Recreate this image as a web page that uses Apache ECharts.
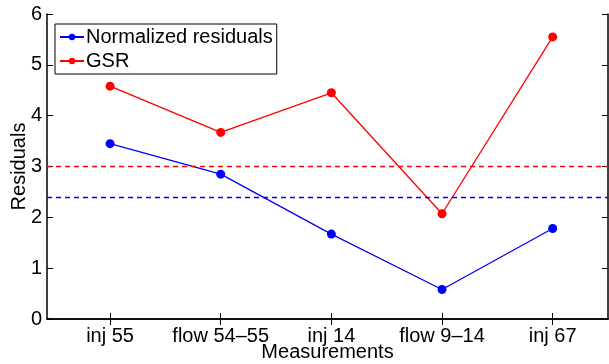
<!DOCTYPE html>
<html>
<head>
<meta charset="utf-8">
<script src="https://cdn.jsdelivr.net/npm/echarts@6/dist/echarts.min.js"></script>
<style>
  html, body { margin: 0; padding: 0; background: #fff; }
  #myChart { width: 609px; height: 364px; }
</style>
</head>
<body>
<div id="myChart"></div>
<script>
  // measurements along the x axis
  var categories = ['inj 55', 'flow 54\u201355', 'inj 14', 'flow 9\u201314', 'inj 67'];
  // residual values
  var normalized = [3.45, 2.85, 1.67, 0.58, 1.78];
  var gsr = [4.58, 3.67, 4.45, 2.07, 5.55];
  // dashed threshold lines
  var normThreshold = 2.4;
  var gsrThreshold = 3.0;
  var yTicks = [0, 1, 2, 3, 4, 5, 6];

  var positions = categories.map(function (c, i) { return i + 1; });
  function pairs(arr) {
    return arr.map(function (v, i) { return [positions[i], v]; });
  }

  var font = 'Liberation Sans, Arial, Helvetica, sans-serif';
  var fs = 20;
  var myChart = echarts.init(document.getElementById('myChart'));
  myChart.setOption({
    animation: false,
    textStyle: { fontFamily: font },
    grid: { left: 47, right: 1, top: 14, bottom: 45, outerBoundsMode: 'none', containLabel: false },
    legend: {
      left: 55,
      top: 24,
      orient: 'vertical',
      backgroundColor: '#fff',
      borderColor: '#000',
      borderWidth: 1,
      borderRadius: 0,
      padding: [3, 4, 3, 4],
      itemGap: 4,
      itemWidth: 24,
      itemHeight: 8,
      textStyle: { fontSize: fs, color: '#000', fontFamily: font, padding: [0, 0, 0, -3] },
      data: ['Normalized residuals', 'GSR']
    },
    xAxis: [{
      type: 'value',
      min: 0.43,
      max: 5.5,
      name: 'Measurements',
      nameLocation: 'middle',
      nameGap: 23,
      nameMoveOverlap: false,
      nameTextStyle: { fontSize: fs, color: '#000' },
      axisLine: { lineStyle: { color: '#000', width: 1.5 } },
      splitLine: { show: false },
      axisTick: { inside: true, length: 6, customValues: positions, lineStyle: { color: '#000' } },
      axisLabel: {
        customValues: positions,
        fontSize: fs,
        color: '#000',
        margin: 7,
        formatter: function (v) { return categories[Math.round(v) - 1]; }
      }
    }, {
      type: 'value',
      position: 'top',
      min: 0.43,
      max: 5.5,
      axisLine: { lineStyle: { color: '#000', width: 1.5 } },
      splitLine: { show: false },
      axisTick: { inside: true, length: 6, customValues: positions, lineStyle: { color: '#000' } },
      axisLabel: { show: false }
    }],
    yAxis: [{
      type: 'value',
      min: 0,
      max: 6,
      interval: 1,
      name: 'Residuals',
      nameLocation: 'middle',
      nameGap: 18,
      nameMoveOverlap: false,
      nameTextStyle: { fontSize: fs, color: '#000' },
      axisLine: { show: true, lineStyle: { color: '#000', width: 1.5 } },
      splitLine: { show: false },
      axisTick: { inside: true, length: 6, lineStyle: { color: '#000' } },
      axisLabel: {
        fontSize: fs,
        color: '#000',
        margin: 5,
        formatter: function (v) { return yTicks.indexOf(v) >= 0 ? String(v) : ''; }
      }
    }, {
      type: 'value',
      position: 'right',
      min: 0,
      max: 6,
      interval: 1,
      axisLine: { show: true, lineStyle: { color: '#000', width: 1.5 } },
      splitLine: { show: false },
      axisTick: { inside: true, length: 6, lineStyle: { color: '#000' } },
      axisLabel: { show: false }
    }],
    series: [{
      name: 'Normalized residuals',
      type: 'line',
      data: pairs(normalized),
      color: '#0000ff',
      symbol: 'circle',
      symbolSize: 9,
      lineStyle: { width: 1.3 },
      markLine: {
        silent: true,
        symbol: 'none',
        label: { show: false },
        lineStyle: { color: '#0000ff', type: [5, 4], width: 1.3 },
        data: [{ yAxis: normThreshold }]
      }
    }, {
      name: 'GSR',
      type: 'line',
      data: pairs(gsr),
      color: '#ff0000',
      symbol: 'circle',
      symbolSize: 9,
      lineStyle: { width: 1.3 },
      markLine: {
        silent: true,
        symbol: 'none',
        label: { show: false },
        lineStyle: { color: '#ff0000', type: [5, 4], width: 1.3 },
        data: [{ yAxis: gsrThreshold }]
      }
    }]
  });
</script>
</body>
</html>
